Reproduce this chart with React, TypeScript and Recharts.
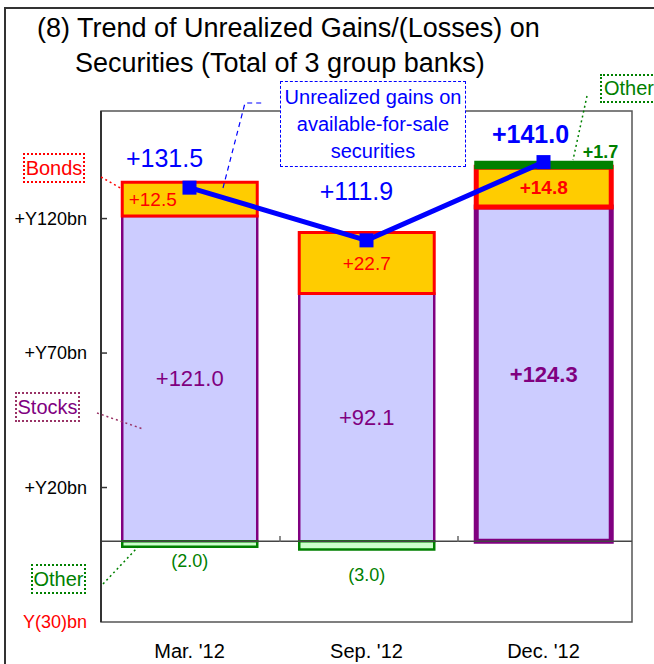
import React from 'react';
import { ComposedChart, Bar, Line, XAxis, YAxis, Cell, LabelList, ReferenceLine, ReferenceArea } from 'recharts';

const periods = ["Mar. '12", "Sep. '12", "Dec. '12"];
const stocks = [121.0, 92.1, 124.3];
const bonds = [12.5, 22.7, 14.8];
const other = [-2.0, -3.0, 1.7];
const totals = [131.5, 111.9, 141.0];
const yTicks = [-30, 20, 70, 120];
const yTickLabels = ['Y(30)bn', '+Y20bn', '+Y70bn', '+Y120bn'];

const data = periods.map((p, i) => ({ period: p, stocks: stocks[i], bonds: bonds[i], other: other[i], total: totals[i] }));

const FONT = '"Liberation Sans", Arial, sans-serif';
const fmt = (v: number) => (v >= 0 ? '+' + v.toFixed(1) : '(' + Math.abs(v).toFixed(1) + ')');

// label nudges (text placement only)
const totalOffsets = [[-25, -30], [-10, -49], [-13, -28]];

const YTick = (props: any) => {
  const { x, y, payload } = props;
  const i = yTicks.indexOf(payload.value);
  const neg = payload.value < 0;
  return (
    <g>
      {!neg && <line x1={x + 14} x2={x + 20} y1={y} y2={y} stroke="#333" strokeWidth={1.5} />}
      <text x={x} y={y} textAnchor="end" dominantBaseline="central" fontSize={18} fontFamily={FONT} fill={neg ? '#FF0000' : '#000'}>
        {yTickLabels[i]}
      </text>
    </g>
  );
};

const box = (y: number, h: number) => ({ top: Math.min(y, y + h), bottom: Math.max(y, y + h) });

const stockLabel = (p: any) => {
  const { x, y, width, height, value, index } = p;
  const b = box(y, height);
  return (
    <text x={x + width / 2} y={(b.top + b.bottom) / 2} textAnchor="middle" dominantBaseline="central" fontSize={22} fontFamily={FONT}
      fontWeight={index === 2 ? 'bold' : 'normal'} fill="#800080">{fmt(value)}</text>
  );
};

const bondLabel = (p: any) => {
  const { x, y, width, height, value, index } = p;
  const b = box(y, height);
  const cx = index === 0 ? x + width / 2 - 37 : x + width / 2;
  return (
    <text x={cx} y={(b.top + b.bottom) / 2} textAnchor="middle" dominantBaseline="central" fontSize={19} fontFamily={FONT}
      fontWeight={index === 2 ? 'bold' : 'normal'} fill="#FF0000">{fmt(value)}</text>
  );
};

const otherLabel = (p: any) => {
  const { x, y, width, height, value, index } = p;
  const b = box(y, height);
  if (value >= 0) {
    return (
      <text x={x + width + 7} y={b.top - 11} textAnchor="end" dominantBaseline="central" fontSize={18} fontFamily={FONT}
        fontWeight="bold" fill="#008000">{fmt(value)}</text>
    );
  }
  const gap = index === 0 ? 14 : 26;
  return (
    <text x={x + width / 2} y={b.bottom + gap} textAnchor="middle" dominantBaseline="central" fontSize={18} fontFamily={FONT}
      fill="#008000">{fmt(value)}</text>
  );
};

const totalLabel = (p: any) => {
  const { x, y, value, index } = p;
  const [dx, dy] = totalOffsets[index];
  return (
    <text x={x + dx} y={y + dy} textAnchor="middle" dominantBaseline="central" fontSize={25} fontFamily={FONT}
      fontWeight={index === 2 ? 'bold' : 'normal'} fill="#0000FF">{fmt(value)}</text>
  );
};

const SquareDot = (props: any) => {
  const { cx, cy, index } = props;
  return <rect key={'d' + index} x={cx - 7} y={cy - 7} width={14} height={14} fill="#0000FF" />;
};

const tagStyle = (left: number, top: number, w: number, h: number, color: string): React.CSSProperties => ({
  position: 'absolute', left, top, width: w, height: h, border: `2px dotted ${color}`, color, fontSize: 20,
  fontFamily: FONT, display: 'flex', alignItems: 'center', justifyContent: 'center', boxSizing: 'border-box', background: '#fff',
});

export default function App() {
  return (
    <div style={{ position: 'absolute', left: 0, top: 0, width: 654, height: 664, overflow: 'hidden', background: '#fff' }}>
      <div style={{ position: 'absolute', left: 4, top: 7, width: 700, height: 700, border: '2px solid #333' }} />
      <div style={{ position: 'absolute', left: 37, top: 13, fontSize: 27, lineHeight: '30px', fontFamily: FONT, color: '#000', whiteSpace: 'nowrap' }}>
        (8) Trend of Unrealized Gains/(Losses) on
      </div>
      <div style={{ position: 'absolute', left: 75, top: 48, fontSize: 27, lineHeight: '30px', fontFamily: FONT, color: '#000', whiteSpace: 'nowrap' }}>
        Securities (Total of 3 group banks)
      </div>
      <div style={{ position: 'absolute', left: 0, top: 0 }}>
        <ComposedChart width={654} height={664} data={data} stackOffset="sign" barCategoryGap="12%"
          margin={{ top: 111, right: 22, bottom: 0, left: 0 }}>
          <ReferenceArea y1={-30} y2={160} fill="none" stroke="#555" strokeWidth={1.5} />
          <XAxis dataKey="period" axisLine={false} tickLine={false} tickSize={0} tickMargin={22} height={42}
            tick={{ fontSize: 20, fill: '#000', fontFamily: FONT }} />
          <YAxis type="number" domain={[-30, 160]} ticks={yTicks} width={101} tickSize={6} tickMargin={8}
            tickLine={false} axisLine={{ stroke: '#333', strokeWidth: 2 }} tick={<YTick />} allowDataOverflow />
          <Bar dataKey="stocks" stackId="s" isAnimationActive={false}>
            {data.map((d, i) => (
              <Cell key={'s' + i} fill="#CCCCFF" stroke="#800080" strokeWidth={i === 2 ? 5 : 2.5} />
            ))}
            <LabelList dataKey="stocks" content={stockLabel} />
          </Bar>
          <Bar dataKey="bonds" stackId="s" isAnimationActive={false}>
            {data.map((d, i) => (
              <Cell key={'b' + i} fill="#FFCC00" stroke="#FF0000" strokeWidth={i === 2 ? 5 : 3} />
            ))}
            <LabelList dataKey="bonds" content={bondLabel} />
          </Bar>
          <Bar dataKey="other" stackId="s" isAnimationActive={false}>
            {data.map((d, i) => (
              <Cell key={'o' + i} fill={d.other >= 0 ? '#008000' : '#CCFFCC'} stroke="#008000" strokeWidth={i === 2 ? 4 : 2.5} />
            ))}
            <LabelList dataKey="other" content={otherLabel} />
          </Bar>
          <ReferenceLine y={0} stroke="#444" strokeWidth={1.5} />
          <Line dataKey="total" stroke="#0000FF" strokeWidth={5} dot={<SquareDot />} activeDot={false} isAnimationActive={false}>
            <LabelList dataKey="total" content={totalLabel} />
          </Line>
        </ComposedChart>
      </div>
      <svg width={654} height={664} style={{ position: 'absolute', left: 0, top: 0, pointerEvents: 'none' }}>
        <line x1={280} x2={280} y1={536} y2={542} stroke="#666" strokeWidth={1.5} />
        <line x1={458} x2={458} y1={536} y2={542} stroke="#666" strokeWidth={1.5} />
        <line x1={101} y1={177} x2={122} y2={189} stroke="#FF0000" strokeWidth={1.5} strokeDasharray="2 3" />
        <line x1={97} y1={413} x2={143} y2={429} stroke="#993366" strokeWidth={1.5} strokeDasharray="2 3" />
        <line x1={103} y1={584} x2={138} y2={547} stroke="#008000" strokeWidth={1.5} strokeDasharray="2 3" />
        <line x1={587} y1={96} x2={573} y2={160} stroke="#008000" strokeWidth={1.5} strokeDasharray="2 3" />
        <polyline points="223,188 245,103 262,103" fill="none" stroke="#0000FF" strokeWidth={1.2} strokeDasharray="5 4" />
      </svg>
      <div style={tagStyle(23, 153, 62, 30, '#FF0000')}>Bonds</div>
      <div style={{ ...tagStyle(15, 392, 65, 30, '#993366'), color: '#800080' }}>Stocks</div>
      <div style={tagStyle(31, 564, 55, 30, '#008000')}>Other</div>
      <div style={{ ...tagStyle(600, 74, 60, 29, '#008000'), justifyContent: 'flex-start', paddingLeft: 2 }}>Other</div>
      <div style={{
        position: 'absolute', left: 280, top: 81, width: 186, height: 86, border: '1.5px dashed #0000FF', boxSizing: 'border-box',
        background: '#fff', color: '#0000FF', fontSize: 20, lineHeight: '27px', fontFamily: FONT, textAlign: 'center', paddingTop: 2,
      }}>
        Unrealized gains on<br />available-for-sale<br />securities
      </div>
    </div>
  );
}
